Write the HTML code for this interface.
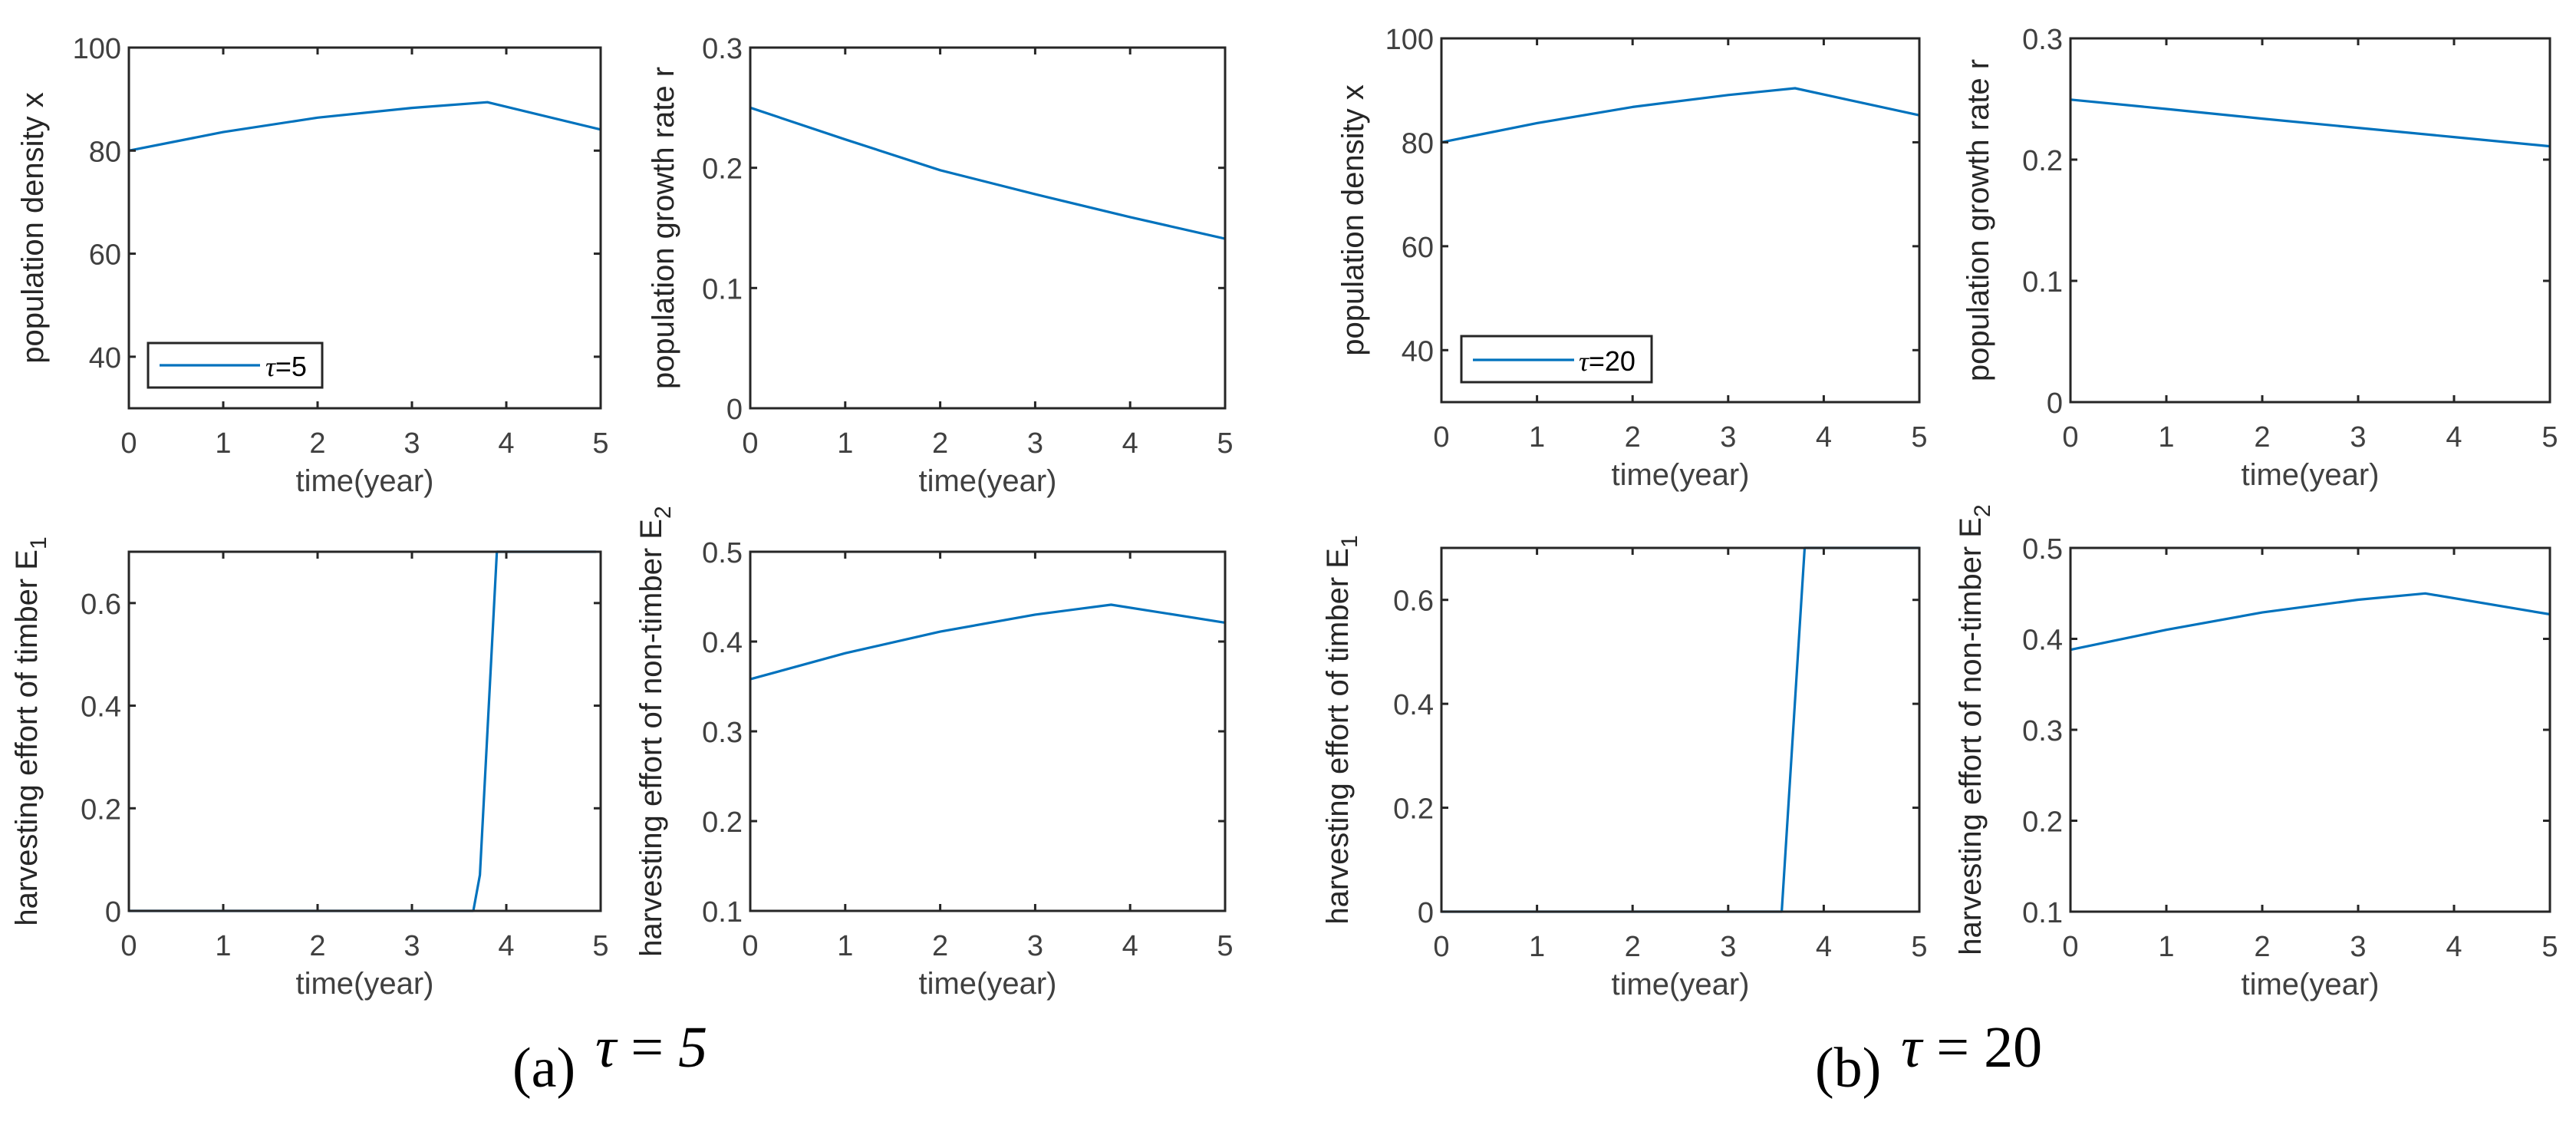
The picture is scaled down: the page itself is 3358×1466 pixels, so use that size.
<!DOCTYPE html>
<html><head><meta charset="utf-8"><style>
html,body{margin:0;padding:0;background:#fff;}
svg{display:block;}
</style></head><body>
<svg id="fig" width="3358" height="1466" viewBox="0 0 3358 1466" xmlns="http://www.w3.org/2000/svg">
<rect width="3358" height="1466" fill="#fff"/>
<text x="668" y="1416" font-family="Liberation Serif, serif" font-size="74" fill="#000">(a)</text>
<text x="776" y="1390" font-family="Liberation Serif, serif" font-size="76" fill="#000"><tspan font-style="italic">τ</tspan> = <tspan font-style="italic">5</tspan></text>
<text x="2366" y="1416" font-family="Liberation Serif, serif" font-size="74" fill="#000">(b)</text>
<text x="2478" y="1390" font-family="Liberation Serif, serif" font-size="76" fill="#000"><tspan font-style="italic">τ</tspan> = 20</text>
</svg>
<script>
// ---- data (τ = 5) ----
const tA_x = [0, 1, 2, 3, 3.8, 5];
const xA = [80, 83.6, 86.4, 88.3, 89.4, 84.1];
const tA_r = [0, 1, 2, 3, 4, 5];
const rA = [0.25, 0.2236, 0.198, 0.178, 0.159, 0.141];
const tA_e1 = [0, 3.65, 3.72, 3.9, 4.95];
const e1A = [0, 0, 0.07, 0.7, 0.7];
const tA_e2 = [0, 1, 2, 3, 3.8, 5];
const e2A = [0.358, 0.387, 0.411, 0.430, 0.441, 0.421];
// ---- data (τ = 20) ----
const tB_x = [0, 1, 2, 3, 3.7, 5];
const xB = [80, 83.7, 86.8, 89.1, 90.4, 85.2];
const tB_r = [0, 1, 2, 3, 4, 5];
const rB = [0.2495, 0.2418, 0.2338, 0.2262, 0.2186, 0.211];
const tB_e1 = [0, 3.56, 3.8, 5];
const e1B = [0, 0, 0.7, 0.7];
const tB_e2 = [0, 1, 2, 3, 3.7, 5];
const e2B = [0.388, 0.410, 0.429, 0.443, 0.450, 0.427];
// ---- ticks ----
const xTicks = [0, 1, 2, 3, 4, 5];
const yTicksX = [40, 60, 80, 100];
const yTicksR = [0, 0.1, 0.2, 0.3];
const yTicksE1 = [0, 0.2, 0.4, 0.6];
const yTicksE2 = [0.1, 0.2, 0.3, 0.4, 0.5];

const NS = "http://www.w3.org/2000/svg";
const svg = document.getElementById('fig');
function el(tag, attrs, parent){
  const e = document.createElementNS(NS, tag);
  for (const k in attrs) e.setAttribute(k, attrs[k]);
  (parent||svg).appendChild(e);
  return e;
}
function fmt(v){ return (Math.round(v*10)/10).toString(); }

function panel(name, box, ymin, ymax, yticks, ts, ys, ylabel, sub, labelX){
  const g = el('g', {});
  
  
  const sx = t => box.l + (t - 0) / 5 * (box.r - box.l);
  const sy = v => box.b - (v - ymin) / (ymax - ymin) * (box.b - box.t);
  let d = '';
  ts.forEach((t,i) => { d += (i ? 'L' : 'M') + sx(t).toFixed(1) + ' ' + sy(ys[i]).toFixed(1); });
  const p = el('path', {d: d, fill: 'none', stroke: '#0072BD', 'stroke-width': 3.2, 'stroke-linejoin': 'round'}, g);
  
  
  const fr = el('rect', {x: box.l, y: box.t, width: box.r - box.l, height: box.b - box.t, fill: 'none', stroke: '#262626', 'stroke-width': 3}, g);
  
  
  xTicks.forEach(t => {
    const x = sx(t);
    el('line', {x1: x, y1: box.b, x2: x, y2: box.b - 9, stroke: '#262626', 'stroke-width': 3}, g);
    el('line', {x1: x, y1: box.t, x2: x, y2: box.t + 9, stroke: '#262626', 'stroke-width': 3}, g);
    const tx = el('text', {x: x, y: box.b + 58, 'text-anchor': 'middle', 'font-family': 'Liberation Sans, sans-serif', 'font-size': 38, fill: '#404040'}, g);
    
    
    tx.textContent = t;
  });
  yticks.forEach(v => {
    const y = sy(v);
    el('line', {x1: box.l, y1: y, x2: box.l + 9, y2: y, stroke: '#262626', 'stroke-width': 3}, g);
    el('line', {x1: box.r, y1: y, x2: box.r - 9, y2: y, stroke: '#262626', 'stroke-width': 3}, g);
    const ty = el('text', {x: box.l - 10, y: y + 14, 'text-anchor': 'end', 'font-family': 'Liberation Sans, sans-serif', 'font-size': 38, fill: '#404040'}, g);
    
    
    ty.textContent = fmt(v);
  });
  const xl = el('text', {x: (box.l + box.r) / 2, y: box.b + 108, 'text-anchor': 'middle', 'font-family': 'Liberation Sans, sans-serif', 'font-size': 40, fill: '#404040'}, g);
  
  
  xl.textContent = 'time(year)';
  const cy = (box.t + box.b) / 2;
  const yl = el('text', {x: labelX, y: cy, 'text-anchor': 'middle', transform: 'rotate(-90 ' + labelX + ' ' + cy + ')', 'font-family': 'Liberation Sans, sans-serif', 'font-size': 40, fill: '#262626'}, g);
  
  
  yl.appendChild(document.createTextNode(ylabel));
  if (sub) {
    const ts2 = el('tspan', {'font-size': 30, dy: 12}, yl);
    ts2.textContent = sub;
  }
  return {sx, sy};
}

function legend(box, lx1, lx2, ly, tx, label){
  const g = el('g', {});
  
  
  el('rect', {x: box.x, y: box.y, width: box.w, height: box.h, fill: '#fff', stroke: '#262626', 'stroke-width': 3}, g);
  el('line', {x1: lx1, y1: ly, x2: lx2, y2: ly, stroke: '#0072BD', 'stroke-width': 3.2}, g);
  const t = el('text', {x: tx, y: ly + 14, 'font-family': 'Liberation Sans, sans-serif', 'font-size': 36, fill: '#000'}, g);
  
  
  const tau = el('tspan', {'font-family': 'Liberation Serif, serif', 'font-style': 'italic'}, t);
  tau.textContent = 'τ';
  t.appendChild(document.createTextNode(label));
}

panel('panel-a-density', {l:168, r:783, t:62, b:532}, 30, 100, yTicksX, tA_x, xA, 'population density x', '', 56);
legend({x:193, y:447, w:227, h:58}, 208, 339, 476, 346, '=5');
panel('panel-a-growth', {l:978, r:1597, t:62, b:532}, 0, 0.3, yTicksR, tA_r, rA, 'population growth rate r', '', 878);
panel('panel-a-e1', {l:168, r:783, t:719, b:1187}, 0, 0.7, yTicksE1, tA_e1, e1A, 'harvesting effort of timber E', '1', 48);
panel('panel-a-e2', {l:978, r:1597, t:719, b:1187}, 0.1, 0.5, yTicksE2, tA_e2, e2A, 'harvesting effort of non-timber E', '2', 862);

panel('panel-b-density', {l:1879, r:2502, t:50, b:524}, 30, 100, yTicksX, tB_x, xB, 'population density x', '', 1777);
legend({x:1905, y:438, w:248, h:60}, 1920, 2052, 469, 2058, '=20');
panel('panel-b-growth', {l:2699, r:3324, t:50, b:524}, 0, 0.3, yTicksR, tB_r, rB, 'population growth rate r', '', 2592);
panel('panel-b-e1', {l:1879, r:2502, t:714, b:1188}, 0, 0.7, yTicksE1, tB_e1, e1B, 'harvesting effort of timber E', '1', 1757);
panel('panel-b-e2', {l:2699, r:3324, t:714, b:1188}, 0.1, 0.5, yTicksE2, tB_e2, e2B, 'harvesting effort of non-timber E', '2', 2582);
</script>
</body></html>
